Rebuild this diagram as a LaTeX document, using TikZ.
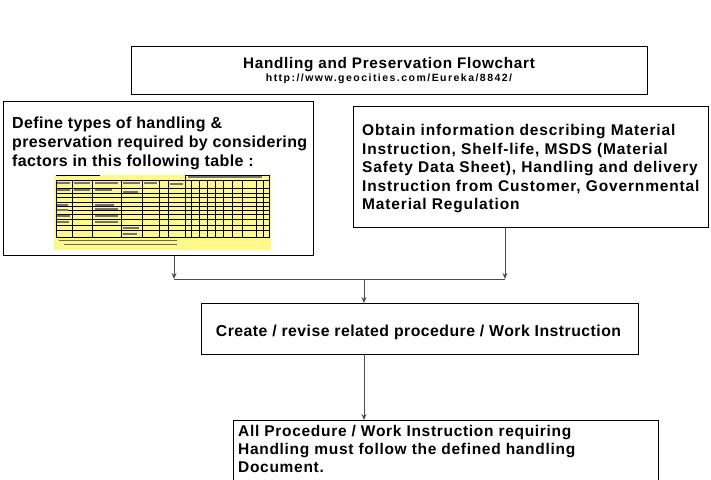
\documentclass[tikz,border=0pt]{standalone}
\usepackage{fontspec}
\setmainfont{Liberation Sans}
\usetikzlibrary{arrows.meta}
\begin{document}
\begin{tikzpicture}[x=1pt,y=-1pt,
  box/.style={draw=black,line width=0.9pt,inner sep=0pt,anchor=north west},
  txt/.style={inner sep=0pt,anchor=north west,align=left,font=\bfseries},
  conn/.style={draw=black!70,line width=0.9pt},
  arr/.style={conn,-{Stealth[length=6pt,width=5pt]}},
  grid/.style={draw=black,line width=0.5pt},
  blob/.style={black!55,line width=1.2pt}]
\useasboundingbox[fill=white] (0,0) rectangle (711,479);
% boxes
\node[box,minimum width=516pt,minimum height=48pt] (title) at (131,46) {};
\node[inner sep=0pt,align=center,font=\bfseries] (ttext) at (389,70.5)
  {{\fontsize{15.3}{17}\selectfont\addfontfeature{LetterSpace=4.5}Handling and Preservation Flowchart}\\[0.5pt]
   {\fontsize{10.5}{12}\selectfont\addfontfeature{LetterSpace=14}http://www.geocities.com/Eureka/8842/}};
\node[box,minimum width=310pt,minimum height=154pt] (lb) at (3,101) {};
\node[txt,font=\bfseries\fontsize{16}{18.7}\selectfont\addfontfeature{LetterSpace=2.4}] (ltext) at (12,117)
  {Define types of handling \&\\preservation required by considering\\factors in this following table :};
\node[box,minimum width=355pt,minimum height=121pt] (rb) at (353,106) {};
\node[txt,font=\bfseries\fontsize{15.5}{18.6}\selectfont\addfontfeature{LetterSpace=5.5}] (rtext) at (362,124)
  {Obtain information describing Material\\Instruction, Shelf-life, MSDS (Material\\Safety Data Sheet), Handling and delivery\\Instruction from Customer, Governmental\\Material Regulation};
\node[box,minimum width=437pt,minimum height=51pt] (cb) at (201,303) {};
\node[inner sep=0pt,font=\bfseries\fontsize{15.8}{17}\selectfont\addfontfeature{LetterSpace=3}] (ctext) at (418.5,332)
  {Create / revise related procedure / Work Instruction};
\node[box,minimum width=425pt,minimum height=60pt] (fb) at (233,420) {};
\node[txt,font=\bfseries\fontsize{15.5}{18}\selectfont\addfontfeature{LetterSpace=4.5}] (ftext) at (238,425)
  {All Procedure / Work Instruction requiring\\Handling must follow the defined handling\\Document.};
% table image
\fill[yellow!45] (54,175) rectangle (271,250);
\draw[grid] (56,180) rectangle (269,237);
\draw[grid] (185,175) rectangle (269,180);
\draw[grid] (56,175) -- (100,175);
\foreach \y in {188,193,197,202,206,210,214,219,225,230}
  \draw[grid] (56,\y) -- (269,\y);
\foreach \x in {72,92,121,142,159,168,185,191,199,207,215,223,232,242,256,263}
  \draw[grid] (\x,180) -- (\x,237);
\foreach \a/\b/\y in {57/70/183,74/90/183,95/118/183,123/140/183,144/157/183,170/183/184,
  57/70/190,74/90/190,95/112/190,123/138/192,57/68/205,95/114/205,57/68/210,95/118/209,
  57/70/216,95/118/216,57/69/222,95/118/222,123/139/228,123/137/234,188/262/177}
  \draw[blob] (\a,\y) -- (\b,\y);
\draw[black!60,line width=1pt] (59,240) -- (177,240);
\draw[black!60,line width=1pt] (64,244) -- (177,244);
% connectors
\coordinate (jl) at (174,279);
\coordinate (jr) at (505,279);
\coordinate (jc) at (364,279);
\draw[arr] (lb.south -| jl) -- (jl);
\draw[arr] (rb.south -| jr) -- (jr);
\draw[conn] (jl) -- (jr);
\draw[arr] (jc) -- (cb.north -| jc);
\draw[arr] (cb.south -| jc) -- (fb.north -| jc);
\end{tikzpicture}
\end{document}
